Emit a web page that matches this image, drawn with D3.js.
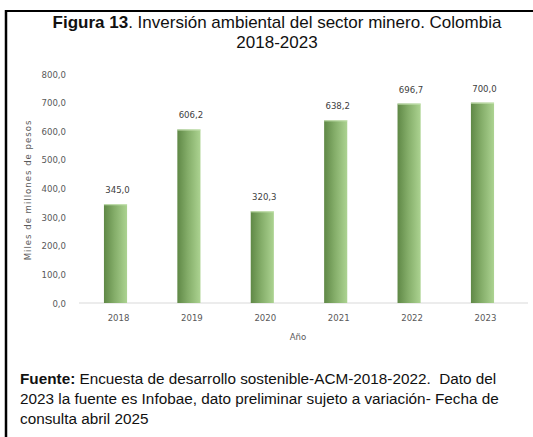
<!DOCTYPE html>
<html>
<head>
<meta charset="utf-8">
<script src="https://cdn.jsdelivr.net/npm/d3@7"></script>
<style>
  body { margin: 0; background: #fff; }
  svg { display: block; font-family: "Liberation Sans", Arial, sans-serif; }
  .small { font-family: "Liberation Sans Narrow", "DejaVu Sans Condensed", "Liberation Sans", sans-serif; }
</style>
</head>
<body>
<svg id="chart" width="533" height="437"></svg>
<script>
const years = ["2018", "2019", "2020", "2021", "2022", "2023"];
const values = [345.0, 606.2, 320.3, 638.2, 696.7, 700.0];
const yTicks = [0, 100, 200, 300, 400, 500, 600, 700, 800];

const svg = d3.select("#chart");
const locale = d3.formatLocale({ decimal: ",", thousands: ".", grouping: [3], currency: ["$", ""] });
const fmt = locale.format(".1f");

// frame: left and top rules only
svg.append("line").attr("x1", 6).attr("x2", 6).attr("y1", 10).attr("y2", 437)
    .attr("stroke", "#000").attr("stroke-width", 2.5);
svg.append("line").attr("x1", 5).attr("x2", 533).attr("y1", 11).attr("y2", 11)
    .attr("stroke", "#000").attr("stroke-width", 2);

// title
const title = svg.append("text").attr("x", 277).attr("y", 28).attr("text-anchor", "middle")
    .attr("font-size", 17).attr("fill", "#111");
title.append("tspan").attr("font-weight", "bold").text("Figura 13");
title.append("tspan").text(". Inversión ambiental del sector minero. Colombia");
svg.append("text").attr("x", 277).attr("y", 48).attr("text-anchor", "middle")
    .attr("font-size", 17).attr("fill", "#111").text("2018-2023");

const margin = { top: 74, left: 82, right: 11, bottom: 134 };
const width = 533 - margin.left - margin.right;
const height = 437 - margin.top - margin.bottom;

const g = svg.append("g").attr("transform", `translate(${margin.left},${margin.top})`);

const x = d3.scaleBand().domain(years).range([0, width]).paddingInner(0.685).paddingOuter(0.34);
const y = d3.scaleLinear().domain([0, 800]).range([height, 0]);

const defs = svg.append("defs");
const grad = defs.append("linearGradient").attr("id", "barGrad").attr("x1", "0%").attr("x2", "100%");
grad.append("stop").attr("offset", "0%").attr("stop-color", "#5f8846");
grad.append("stop").attr("offset", "45%").attr("stop-color", "#84ad69");
grad.append("stop").attr("offset", "100%").attr("stop-color", "#acd391");

// y axis labels
const yAxis = g.append("g").attr("transform", "translate(-13,0)")
    .call(d3.axisLeft(y).tickValues(yTicks).tickFormat(fmt).tickSize(0));
yAxis.select(".domain").remove();
yAxis.selectAll("text").attr("class", "small").attr("font-size", 9.5).attr("fill", "#595959");

// baseline
g.append("line").attr("x1", -3).attr("x2", width + 6).attr("y1", height).attr("y2", height)
    .attr("stroke", "#d9d9d9").attr("stroke-width", 1);

// bars
g.selectAll(".bar")
    .data(values)
    .join("rect")
    .attr("class", "bar")
    .attr("x", (d, i) => x(years[i]) - 3)
    .attr("y", d => y(d))
    .attr("width", x.bandwidth())
    .attr("height", d => height - y(d))
    .attr("fill", "url(#barGrad)");

g.selectAll(".bar-top")
    .data(values)
    .join("line")
    .attr("class", "bar-top")
    .attr("x1", (d, i) => x(years[i]) - 3)
    .attr("x2", (d, i) => x(years[i]) - 3 + x.bandwidth())
    .attr("y1", d => y(d) + 0.5)
    .attr("y2", d => y(d) + 0.5)
    .attr("stroke", "#c9e4b5").attr("stroke-width", 1);

// value labels
g.selectAll(".val")
    .data(values)
    .join("text")
    .attr("class", "val small")
    .attr("x", (d, i) => x(years[i]) + x.bandwidth() / 2 - 1)
    .attr("y", d => y(d) - 11)
    .attr("text-anchor", "middle")
    .attr("font-size", 9.5)
    .attr("fill", "#404040")
    .text(d => fmt(d));

// x axis labels
const xAxis = g.append("g").attr("transform", `translate(0,${height + 8})`)
    .call(d3.axisBottom(x).tickSize(0));
xAxis.select(".domain").remove();
xAxis.selectAll("text").attr("class", "small").attr("font-size", 9.5).attr("fill", "#595959");

// axis titles
g.append("text").attr("class", "small").attr("x", width / 2 - 4).attr("y", height + 37).attr("text-anchor", "middle")
    .attr("font-size", 9.5).attr("fill", "#595959").text("Año");
svg.append("text").attr("class", "small").attr("transform", "translate(31,190) rotate(-90)").attr("text-anchor", "middle")
    .attr("font-size", 9.5).attr("letter-spacing", 1).attr("fill", "#595959").text("Miles de millones de pesos");

// source note
const notes = [
    ["Fuente:", " Encuesta de desarrollo sostenible-ACM-2018-2022.  Dato del"],
    ["", "2023 la fuente es Infobae, dato preliminar sujeto a variación- Fecha de"],
    ["", "consulta abril 2025"]
];
notes.forEach((n, i) => {
    const t = svg.append("text").attr("x", 20).attr("y", 384 + i * 20)
        .attr("font-size", 15.3).attr("fill", "#111").attr("xml:space", "preserve");
    if (n[0]) t.append("tspan").attr("font-weight", "bold").text(n[0]);
    t.append("tspan").text(n[1]);
});
</script>
</body>
</html>
